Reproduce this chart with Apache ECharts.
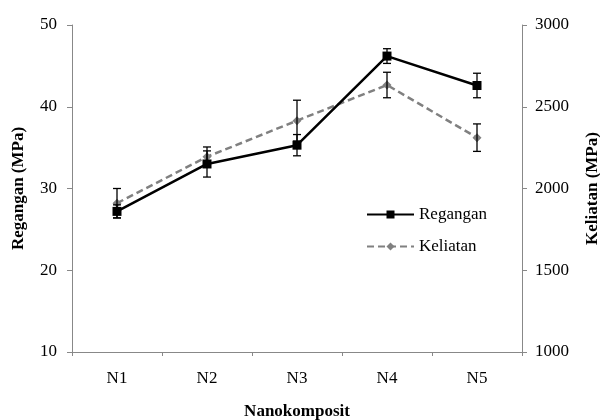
<!DOCTYPE html>
<html>
<head>
<meta charset="utf-8">
<script src="https://cdn.jsdelivr.net/npm/echarts@6/dist/echarts.min.js"></script>
<style>
html,body{margin:0;padding:0;background:#fff;overflow:hidden;}
#chart{width:600px;height:420px;}
</style>
</head>
<body>
<div id="chart"></div>
<script>
var categories = ['N1', 'N2', 'N3', 'N4', 'N5'];
var reganganValues = [27.2, 33.0, 35.3, 46.2, 42.6];
var reganganErrors = [0.8, 1.6, 1.3, 0.9, 1.5];
var keliatanValues = [1910, 2194, 2415, 2633, 2311];
var keliatanErrors = [90, 60, 125, 78, 84];
var leftTicks = [10, 20, 30, 40, 50];
var rightTicks = [1000, 1500, 2000, 2500, 3000];

var FONT = '"Liberation Serif", "Times New Roman", serif';

function errorData(vals, errs) {
  return vals.map(function (v, i) { return [i, v - errs[i], v + errs[i]]; });
}

function errorRender(params, api) {
  var x = api.value(0);
  var lo = api.coord([x, api.value(1)]);
  var hi = api.coord([x, api.value(2)]);
  var hw = 4;
  var style = { stroke: '#000', lineWidth: 1.3, fill: null };
  return {
    type: 'group',
    children: [
      { type: 'line', shape: { x1: lo[0], y1: lo[1], x2: hi[0], y2: hi[1] }, style: style },
      { type: 'line', shape: { x1: lo[0] - hw, y1: lo[1], x2: lo[0] + hw, y2: lo[1] }, style: style },
      { type: 'line', shape: { x1: hi[0] - hw, y1: hi[1], x2: hi[0] + hw, y2: hi[1] }, style: style }
    ]
  };
}

var chart = echarts.init(document.getElementById('chart'), null, { renderer: 'canvas' });
chart.setOption({
  animation: false,
  backgroundColor: '#fff',
  textStyle: { fontFamily: FONT },
  grid: { left: 72, right: 78, top: 25, bottom: 68, containLabel: false, outerBoundsMode: 'none' },
  legend: {
    orient: 'vertical',
    left: 361,
    top: 201,
    itemWidth: 47,
    itemHeight: 10,
    itemGap: 15,
    textStyle: { fontFamily: FONT, fontSize: 17, color: '#000' },
    data: ['Regangan', 'Keliatan']
  },
  xAxis: {
    type: 'category',
    data: categories,
    boundaryGap: true,
    name: 'Nanokomposit',
    nameLocation: 'middle',
    nameGap: 51,
    nameTextStyle: { fontFamily: FONT, fontSize: 17, fontWeight: 'bold', color: '#000' },
    axisLine: { lineStyle: { color: '#888', width: 1 } },
    axisTick: { show: true, length: 4, lineStyle: { color: '#888' }, alignWithLabel: false },
    axisLabel: { fontFamily: FONT, fontSize: 17, color: '#000', margin: 18 },
    splitLine: { show: false }
  },
  yAxis: [
    {
      type: 'value',
      min: 10, max: 50, interval: 10,
      position: 'left',
      name: 'Regangan (MPa)',
      nameLocation: 'middle',
      nameRotate: 90,
      nameGap: 45,
      nameTextStyle: { fontFamily: FONT, fontSize: 17, fontWeight: 'bold', color: '#000' },
      axisLine: { show: true, lineStyle: { color: '#888', width: 1 } },
      axisTick: { show: true, length: 5, lineStyle: { color: '#888' } },
      axisLabel: { fontFamily: FONT, fontSize: 17, color: '#000', margin: 15,
        formatter: function (v) { return leftTicks.indexOf(v) >= 0 ? String(v) : ''; } },
      splitLine: { show: false }
    },
    {
      type: 'value',
      min: 1000, max: 3000, interval: 500,
      position: 'right',
      name: 'Keliatan (MPa)',
      nameLocation: 'middle',
      nameRotate: 90,
      nameGap: 62,
      nameTextStyle: { fontFamily: FONT, fontSize: 17, fontWeight: 'bold', color: '#000' },
      axisLine: { show: true, lineStyle: { color: '#888', width: 1 } },
      axisTick: { show: true, length: 5, lineStyle: { color: '#888' } },
      axisLabel: { fontFamily: FONT, fontSize: 17, color: '#000', margin: 13,
        formatter: function (v) { return rightTicks.indexOf(v) >= 0 ? String(v) : ''; } },
      splitLine: { show: false }
    }
  ],
  series: [
    {
      name: 'Keliatan',
      type: 'line',
      yAxisIndex: 1,
      data: keliatanValues,
      symbol: 'diamond',
      symbolSize: 9,
      color: '#808080',
      lineStyle: { color: '#808080', width: 2.5, type: [7, 4] },
      itemStyle: { color: '#808080' },
      z: 3
    },
    {
      name: 'Regangan',
      type: 'line',
      yAxisIndex: 0,
      data: reganganValues,
      symbol: 'rect',
      symbolSize: 9,
      color: '#000',
      lineStyle: { color: '#000', width: 2.5 },
      itemStyle: { color: '#000' },
      z: 4
    },
    {
      type: 'custom',
      yAxisIndex: 1,
      data: errorData(keliatanValues, keliatanErrors),
      renderItem: errorRender,
      encode: { x: 0, y: [1, 2] },
      z: 5,
      silent: true
    },
    {
      type: 'custom',
      yAxisIndex: 0,
      data: errorData(reganganValues, reganganErrors),
      renderItem: errorRender,
      encode: { x: 0, y: [1, 2] },
      z: 5,
      silent: true
    }
  ]
});
</script>
</body>
</html>
